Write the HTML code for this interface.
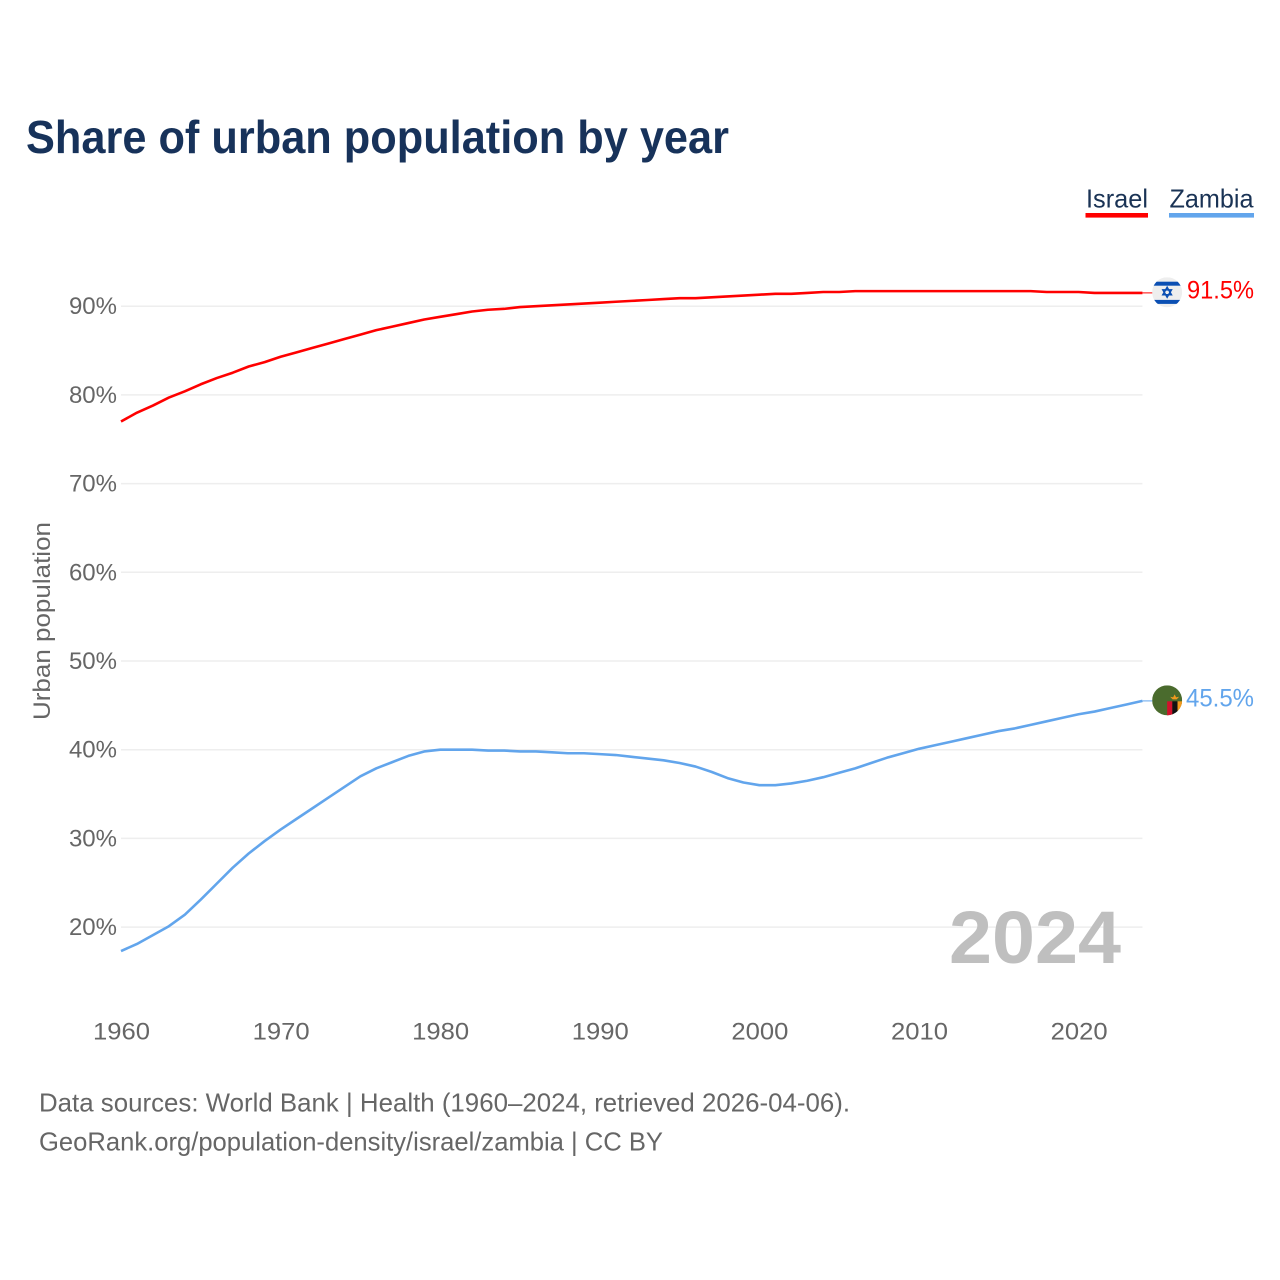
<!DOCTYPE html>
<html lang="en">
<head>
<meta charset="utf-8">
<title>Share of urban population by year</title>
<style>
html,body{margin:0;padding:0;background:#fff;}
svg{display:block;}
text{font-family:"Liberation Sans",sans-serif;}
</style>
</head>
<body>
<svg id="chart" width="1280" height="1280" viewBox="0 0 1280 1280" xmlns="http://www.w3.org/2000/svg">
  <defs>
    <clipPath id="clip-il"><circle cx="0" cy="0" r="15"/></clipPath>
    <clipPath id="clip-zm"><circle cx="0" cy="0" r="15"/></clipPath>
  </defs>
  <rect width="1280" height="1280" fill="#fff"/>
  <text x="26" y="153" font-size="46" font-weight="700" fill="#17325a" textLength="703" lengthAdjust="spacingAndGlyphs">Share of urban population by year</text>

  <g>
    <text x="1086" y="207.5" font-size="26" fill="#1a3355" textLength="62" lengthAdjust="spacingAndGlyphs">Israel</text>
    <rect x="1085.5" y="213" width="62.5" height="4.6" fill="#ff0000"/>
    <text x="1169.5" y="207.5" font-size="26" fill="#1a3355" textLength="84" lengthAdjust="spacingAndGlyphs">Zambia</text>
    <rect x="1169" y="213" width="85" height="4.6" fill="#62a5ec"/>
  </g>

  <g id="grid"></g>
  <g id="yticks"></g>
  <g id="xticks"></g>

  <text transform="translate(50,621) rotate(-90)" text-anchor="middle" font-size="24" fill="#666" textLength="198" lengthAdjust="spacingAndGlyphs">Urban population</text>

  <text x="949" y="963" font-size="74" font-weight="700" fill="#bfbfbf" textLength="172" lengthAdjust="spacingAndGlyphs">2024</text>

  <g id="series"></g>

  <g id="flag-israel">
    <g clip-path="url(#clip-il)">
      <rect x="-15" y="-15" width="30" height="30" fill="#eeeeee"/>
      <rect x="-15" y="-10.6" width="30" height="4" fill="#0b4fb3"/>
      <rect x="-15" y="7.6" width="30" height="4" fill="#0b4fb3"/>
      <polygon points="0,-5 4.3,2.4 -4.3,2.4" fill="none" stroke="#0b4fb3" stroke-width="1.5"/>
      <polygon points="0,5 4.3,-2.4 -4.3,-2.4" fill="none" stroke="#0b4fb3" stroke-width="1.5"/>
    </g>
  </g>
  <g id="flag-zambia">
    <g clip-path="url(#clip-zm)">
      <rect x="-15" y="-15" width="30" height="30" fill="#4a6b2d"/>
      <rect x="0" y="1" width="5.2" height="16" fill="#d2112c"/>
      <rect x="5.2" y="1" width="5.2" height="16" fill="#111111"/>
      <rect x="10.4" y="1" width="5.2" height="16" fill="#f39a1e"/>
      <polygon points="3,-3.6 6,-3 7.5,-6 9,-3 12,-3.6 9.5,-1 5.5,-1" fill="#f39a1e"/>
    </g>
  </g>
  <text id="label-israel" font-size="25" fill="#ff0000" textLength="67" lengthAdjust="spacingAndGlyphs"></text>
  <text id="label-zambia" font-size="25" fill="#62a5ec" textLength="68" lengthAdjust="spacingAndGlyphs"></text>

  <g>
    <text x="39" y="1111.5" font-size="26" fill="#666" textLength="811" lengthAdjust="spacingAndGlyphs">Data sources: World Bank | Health (1960–2024, retrieved 2026-04-06).</text>
    <text x="39" y="1150.5" font-size="26" fill="#666" textLength="624" lengthAdjust="spacingAndGlyphs">GeoRank.org/population-density/israel/zambia | CC BY</text>
  </g>
</svg>
<script>
const startYear = 1960;
const israelValues = [77.0,78.0,78.8,79.7,80.4,81.2,81.9,82.5,83.2,83.7,84.3,84.8,85.3,85.8,86.3,86.8,87.3,87.7,88.1,88.5,88.8,89.1,89.4,89.6,89.7,89.9,90.0,90.1,90.2,90.3,90.4,90.5,90.6,90.7,90.8,90.9,90.9,91.0,91.1,91.2,91.3,91.4,91.4,91.5,91.6,91.6,91.7,91.7,91.7,91.7,91.7,91.7,91.7,91.7,91.7,91.7,91.7,91.7,91.6,91.6,91.6,91.5,91.5,91.5,91.5];
const zambiaValues = [17.3,18.1,19.1,20.1,21.4,23.1,24.9,26.7,28.3,29.7,31.0,32.2,33.4,34.6,35.8,37.0,37.9,38.6,39.3,39.8,40.0,40.0,40.0,39.9,39.9,39.8,39.8,39.7,39.6,39.6,39.5,39.4,39.2,39.0,38.8,38.5,38.1,37.5,36.8,36.3,36.0,36.0,36.2,36.5,36.9,37.4,37.9,38.5,39.1,39.6,40.1,40.5,40.9,41.3,41.7,42.1,42.4,42.8,43.2,43.6,44.0,44.3,44.7,45.1,45.5];
const yTickValues = [20,30,40,50,60,70,80,90];
const xTickValues = [1960,1970,1980,1990,2000,2010,2020];

const NS = 'http://www.w3.org/2000/svg';
function xScale(year){ return 121 + (year - 1960) * 15.96; }
function yScale(v){ return 306.2 + (90 - v) * 8.87; }

const gridG = document.getElementById('grid');
const yG = document.getElementById('yticks');
const xG = document.getElementById('xticks');
const seriesG = document.getElementById('series');

yTickValues.forEach(function(v){
  const line = document.createElementNS(NS, 'line');
  line.setAttribute('x1', xScale(1960));
  line.setAttribute('x2', xScale(2024));
  line.setAttribute('y1', yScale(v));
  line.setAttribute('y2', yScale(v));
  line.setAttribute('stroke', '#eeeeee');
  line.setAttribute('stroke-width', '1.5');
  
  
  gridG.appendChild(line);

  const t = document.createElementNS(NS, 'text');
  t.setAttribute('x', 117);
  t.setAttribute('y', yScale(v) + 8);
  t.setAttribute('text-anchor', 'end');
  t.setAttribute('font-size', '24');
  t.setAttribute('fill', '#666');
  
  
  t.textContent = v + '%';
  yG.appendChild(t);
});

xTickValues.forEach(function(year){
  const t = document.createElementNS(NS, 'text');
  t.setAttribute('x', xScale(year) + 0.5);
  t.setAttribute('y', 1039.5);
  t.setAttribute('text-anchor', 'middle');
  t.setAttribute('font-size', '24');
  t.setAttribute('fill', '#666');
  t.setAttribute('textLength', '57');
  t.setAttribute('lengthAdjust', 'spacingAndGlyphs');
  
  
  t.textContent = year;
  xG.appendChild(t);
});

function pathFor(values){
  return values.map(function(v, i){
    return (i ? 'L' : 'M') + xScale(startYear + i).toFixed(2) + ' ' + yScale(v).toFixed(2);
  }).join(' ');
}

function drawSeries(values, color, key, labelX){
  const p = document.createElementNS(NS, 'path');
  p.setAttribute('d', pathFor(values));
  p.setAttribute('fill', 'none');
  p.setAttribute('stroke', color);
  p.setAttribute('stroke-width', '2.6');
  p.setAttribute('stroke-linejoin', 'round');
  
  
  seriesG.appendChild(p);

  const last = values[values.length - 1];
  const endX = xScale(startYear + values.length - 1);
  const endY = yScale(last);

  const c = document.createElementNS(NS, 'line');
  c.setAttribute('x1', endX);
  c.setAttribute('x2', endX + 10);
  c.setAttribute('y1', endY);
  c.setAttribute('y2', endY);
  c.setAttribute('stroke', color);
  c.setAttribute('stroke-width', '1');
  
  
  seriesG.appendChild(c);

  document.getElementById('flag-' + key).setAttribute('transform', 'translate(' + (endX + 24.7) + ',' + (endY - 0.6) + ')');

  const label = document.getElementById('label-' + key);
  label.setAttribute('x', labelX);
  label.setAttribute('y', endY + 5.6);
  label.textContent = last.toFixed(1) + '%';
}

drawSeries(israelValues, '#ff0000', 'israel', 1187);
drawSeries(zambiaValues, '#62a5ec', 'zambia', 1186);
</script>
</body>
</html>
